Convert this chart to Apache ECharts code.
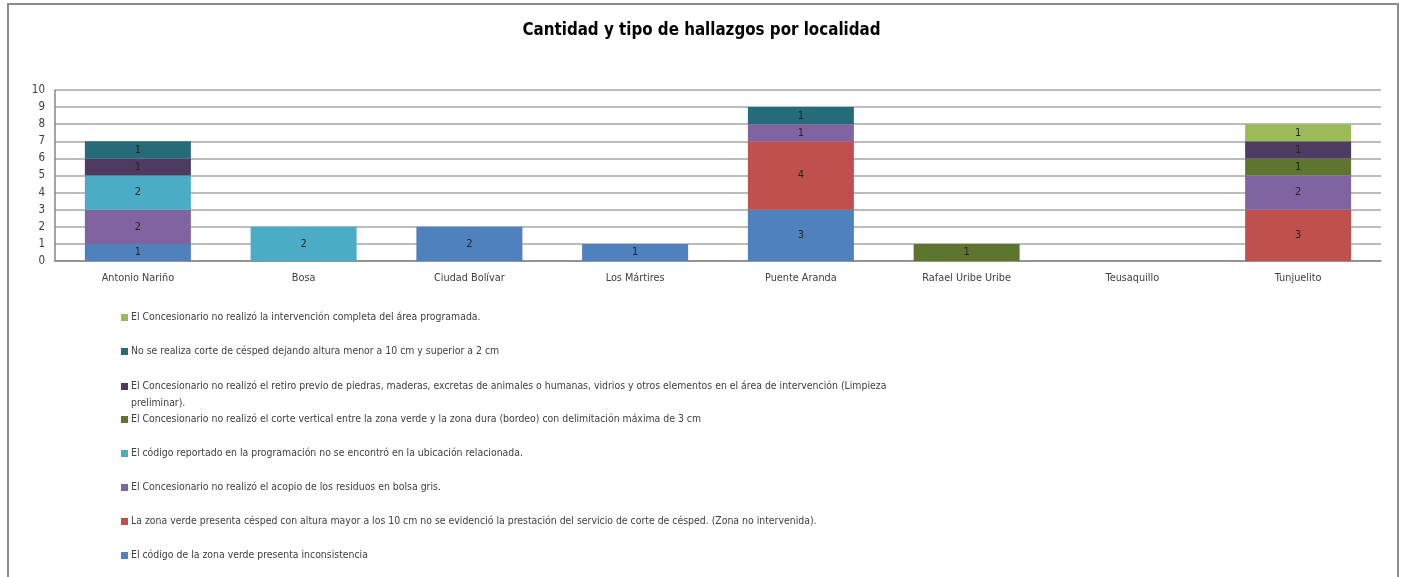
<!DOCTYPE html>
<html>
<head>
<meta charset="utf-8">
<title>Cantidad y tipo de hallazgos por localidad</title>
<script src="https://cdn.jsdelivr.net/npm/echarts@6/dist/echarts.min.js"></script>
<style>
  html, body { margin: 0; padding: 0; background: #fff; }
  #frame { position: absolute; left: 7px; top: 3px; width: 1392px; height: 590px; border: 2px solid #8c8c8c; box-sizing: border-box; }
  #main { position: absolute; left: 0; top: 0; width: 1403px; height: 577px; }
</style>
</head>
<body>
<div id="frame"></div>
<div id="main"></div>
<script>
// localidades
const categories = ['Antonio Nariño', 'Bosa', 'Ciudad Bolívar', 'Los Mártires', 'Puente Aranda', 'Rafael Uribe Uribe', 'Teusaquillo', 'Tunjuelito']

// tipos de hallazgo (de abajo hacia arriba en la pila)
const seriesNames = [
    'El código de la zona verde presenta inconsistencia',
    'La zona verde presenta césped con altura mayor a los 10 cm no se evidenció la prestación del servicio de corte de césped. (Zona no intervenida).',
    'El Concesionario no realizó el acopio de los residuos en bolsa gris.',
    'El código reportado en la programación no se encontró en la ubicación relacionada.',
    'El Concesionario no realizó el corte vertical entre la zona verde y la zona dura (bordeo) con delimitación máxima de 3 cm',
    'El Concesionario no realizó el retiro previo de piedras, maderas, excretas de animales o humanas, vidrios y otros elementos en el área de intervención (Limpieza\npreliminar).',
    'No se realiza corte de césped dejando altura menor a 10 cm y superior a 2 cm',
    'El Concesionario no realizó la intervención completa del área programada.'
]

const codigoInconsistente = [1, 0, 2, 1, 3, 0, 0, 0]
const zonaNoIntervenida = [0, 0, 0, 0, 4, 0, 0, 3]
const acopioResiduos = [2, 0, 0, 0, 1, 0, 0, 2]
const codigoNoEncontrado = [2, 2, 0, 0, 0, 0, 0, 0]
const corteVertical = [0, 0, 0, 0, 0, 1, 0, 1]
const retiroPrevio = [1, 0, 0, 0, 0, 0, 0, 1]
const corteAltura = [1, 0, 0, 0, 1, 0, 0, 0]
const intervencionIncompleta = [0, 0, 0, 0, 0, 0, 0, 1]

const seriesValues = [codigoInconsistente, zonaNoIntervenida, acopioResiduos, codigoNoEncontrado,
    corteVertical, retiroPrevio, corteAltura, intervencionIncompleta]

const colors = ['#4f81bd', '#c0504d', '#8064a2', '#4bacc6', '#5e7530', '#4d3b62', '#266b79', '#9bbb59']

const yTicks = [0, 1, 2, 3, 4, 5, 6, 7, 8, 9, 10]

const font = '"Liberation Sans Narrow", "DejaVu Sans Condensed", "Open Sans", sans-serif'

const chart = echarts.init(document.getElementById('main'))

// una leyenda por fila, en el orden inverso de la pila
const legends = seriesNames.slice().reverse().map((name, i) => {
    const twoLines = name.indexOf('\n') >= 0
    return {
        orient: 'vertical',
        left: 121,
        top: twoLines ? 310 + i * 34 : 309 + i * 34,
        itemWidth: 7,
        itemHeight: twoLines ? 24 : 7,
        // cuadrito arriba para que quede junto a la primera línea
        icon: twoLines ? 'path://M0,0H7V7H0Z M0,24L7,24' : 'rect',
        itemGap: 0,
        padding: 0,
        selectedMode: false,
        data: [name],
        textStyle: { fontFamily: font, fontSize: 10.4, color: '#404040', padding: [0, 0, 0, -2], lineHeight: 17 }
    }
})

const option = {
    animation: false,
    color: colors,
    title: {
        text: 'Cantidad y tipo de hallazgos por localidad',
        left: 'center',
        top: 17,
        textStyle: { fontFamily: font, fontSize: 16.8, fontWeight: 'bold', color: '#000' }
    },
    legend: legends,
    grid: { left: 55, right: 22, top: 90, bottom: 316, containLabel: false },
    xAxis: {
        type: 'category',
        data: categories,
        axisLine: { lineStyle: { color: '#868686', width: 1.5 } },
        axisTick: { show: false },
        axisLabel: { fontFamily: font, fontSize: 10.8, color: '#404040', margin: 12 }
    },
    yAxis: {
        type: 'value',
        min: yTicks[0],
        max: yTicks[yTicks.length - 1],
        interval: 1,
        axisLine: { show: true, lineStyle: { color: '#868686', width: 1.5 } },
        axisTick: { show: false },
        axisLabel: { fontFamily: font, fontSize: 11.5, color: '#404040', margin: 10 },
        splitLine: { lineStyle: { color: '#a6a6a6', width: 1.5 } }
    },
    series: seriesNames.map((name, i) => ({
        name: name,
        type: 'bar',
        stack: 'total',
        barWidth: 106,
        data: seriesValues[i],
        label: {
            show: true,
            position: 'inside',
            fontFamily: font,
            fontSize: 11,
            color: '#262626',
            formatter: p => p.value ? String(p.value) : ''
        }
    }))
}

chart.setOption(option)
</script>
</body>
</html>
